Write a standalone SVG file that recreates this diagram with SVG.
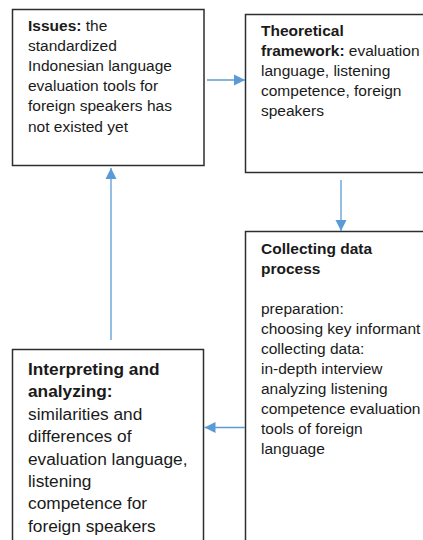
<svg xmlns="http://www.w3.org/2000/svg" width="423" height="540" viewBox="0 0 423 540">
<style>
.box{fill:#fff;stroke:#2e2e2e;stroke-width:1.5}
.t{font-family:"Liberation Sans",Arial,sans-serif;font-size:15.5px;fill:#1a1a1a}
.tl{font-family:"Liberation Sans",Arial,sans-serif;font-size:17.3px;fill:#1a1a1a}
.b{font-weight:bold}
.c{stroke:#5b9bd5;stroke-width:1.3;fill:none}
</style>
<defs>
<marker id="ah" markerUnits="userSpaceOnUse" markerWidth="12" markerHeight="12" refX="11" refY="6" orient="auto">
<path d="M0,0.5 L11,6 L0,11.5 z" fill="#5b9bd5"/>
</marker>
</defs>
<rect width="423" height="540" fill="#fff"/>
<g id="issues">
<rect class="box" x="12.5" y="9.5" width="191.5" height="156"/>
<text class="t" x="28" y="30.5"><tspan class="b">Issues:</tspan> the</text>
<text class="t" x="28" y="50.7">standardized</text>
<text class="t" x="28" y="70.9">Indonesian language</text>
<text class="t" x="28" y="91.1">evaluation tools for</text>
<text class="t" x="28" y="111.3">foreign speakers has</text>
<text class="t" x="28" y="131.5">not existed yet</text>
</g>
<g id="theoretical">
<rect class="box" x="245.5" y="14.5" width="190" height="158"/>
<text class="t" x="261" y="36"><tspan class="b">Theoretical</tspan></text>
<text class="t" x="261" y="56"><tspan class="b">framework:</tspan> evaluation</text>
<text class="t" x="261" y="76">language, listening</text>
<text class="t" x="261" y="96">competence, foreign</text>
<text class="t" x="261" y="116">speakers</text>
</g>
<g id="collecting">
<rect class="box" x="245.5" y="231.5" width="190" height="320"/>
<text class="t b" x="261" y="253.5">Collecting data</text>
<text class="t b" x="261" y="273.5">process</text>
<text class="t" x="261" y="313.5">preparation:</text>
<text class="t" x="261" y="333.5">choosing key informant</text>
<text class="t" x="261" y="353.5">collecting data:</text>
<text class="t" x="261" y="373.5">in-depth interview</text>
<text class="t" x="261" y="393.5">analyzing listening</text>
<text class="t" x="261" y="413.5">competence evaluation</text>
<text class="t" x="261" y="433.5">tools of foreign</text>
<text class="t" x="261" y="453.5">language</text>
</g>
<g id="interpreting">
<rect class="box" x="12.5" y="349.5" width="191" height="200"/>
<text class="tl b" x="28" y="375">Interpreting and</text>
<text class="tl b" x="28" y="397.4">analyzing:</text>
<text class="tl" x="28" y="419.8">similarities and</text>
<text class="tl" x="28" y="442.2">differences of</text>
<text class="tl" x="28" y="464.6">evaluation language,</text>
<text class="tl" x="28" y="487">listening</text>
<text class="tl" x="28" y="509.4">competence for</text>
<text class="tl" x="28" y="531.8">foreign speakers</text>
</g>
<g id="connectors">
<line class="c" x1="207" y1="80" x2="245" y2="80" marker-end="url(#ah)"/>
<line class="c" x1="341" y1="180" x2="341" y2="231" marker-end="url(#ah)"/>
<line class="c" x1="245" y1="427.5" x2="204.5" y2="427.5" marker-end="url(#ah)"/>
<line class="c" x1="111" y1="340" x2="111" y2="168" marker-end="url(#ah)"/>
</g>
</svg>
